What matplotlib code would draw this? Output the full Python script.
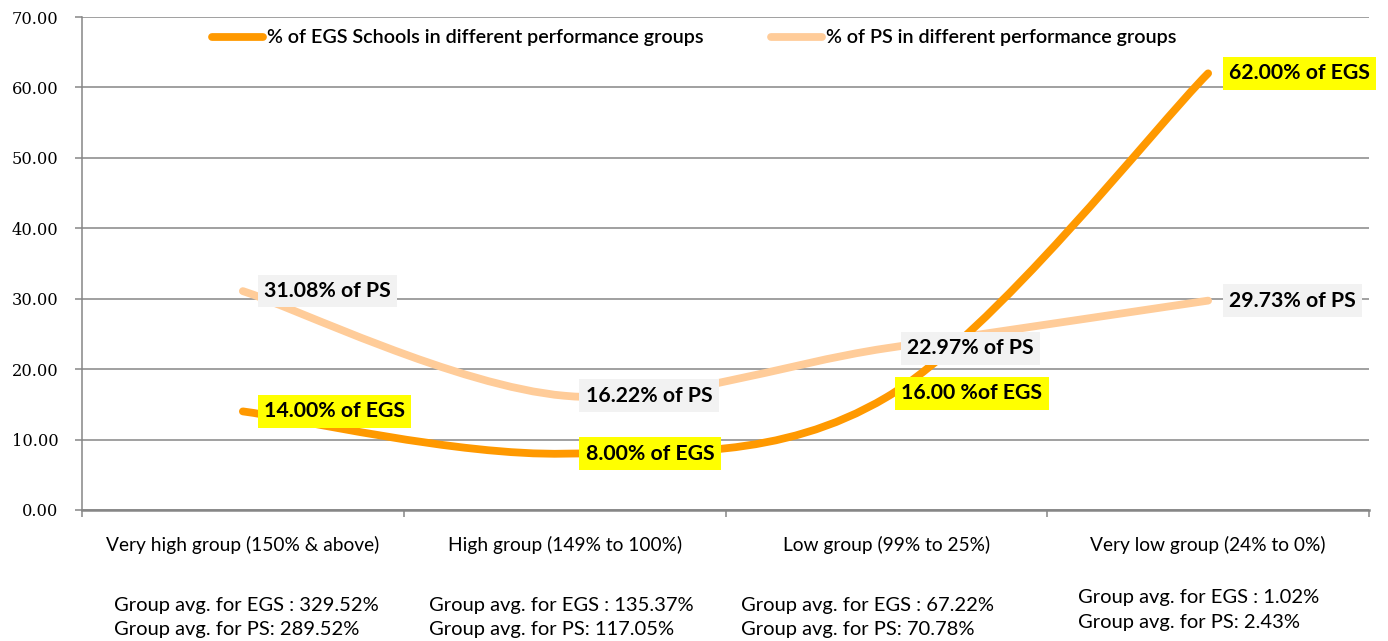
#!/usr/bin/env python

"""EGS vs PS share of schools by performance group"""

import matplotlib
matplotlib.use('Agg')
import matplotlib.pyplot as plt
from matplotlib.path import Path
from matplotlib.patches import PathPatch
from matplotlib.lines import Line2D
from matplotlib.ticker import FormatStrFormatter, MultipleLocator

# data
groups = ['Very high group (150% & above)', 'High group (149% to 100%)',
          'Low group (99% to 25%)', 'Very low group (24% to 0%)']
egs = [14.00, 8.00, 16.00, 62.00]
ps = [31.08, 16.22, 22.97, 29.73]
egs_labels = ['14.00% of EGS', '8.00% of EGS', '16.00 %of EGS', '62.00% of EGS']
ps_labels = ['31.08% of PS', '16.22% of PS', '22.97% of PS', '29.73% of PS']
avg_egs = ['329.52%', '135.37%', '67.22%', '1.02%']
avg_ps = ['289.52%', '117.05%', '70.78%', '2.43%']

EGS_COL = '#FF9900'
PS_COL = '#FFCC99'
GRID = '#868686'
SANS = ['Lato', 'DejaVu Sans']


def smooth_path(xs, ys):
    """Excel style smoothed line as cubic bezier segments"""
    pts = list(zip(xs, ys))
    verts = [pts[0]]
    codes = [Path.MOVETO]
    n = len(pts)
    for i in range(n - 1):
        p0 = pts[i - 1] if i > 0 else pts[i]
        p1 = pts[i]
        p2 = pts[i + 1]
        p3 = pts[i + 2] if i + 2 < n else pts[i + 1]
        c1 = (p1[0] + (p2[0] - p0[0]) / 6, p1[1] + (p2[1] - p0[1]) / 6)
        c2 = (p2[0] - (p3[0] - p1[0]) / 6, p2[1] - (p3[1] - p1[1]) / 6)
        verts += [c1, c2, p2]
        codes += [Path.CURVE4] * 3
    return Path(verts, codes)


fig = plt.figure(figsize=(13.88, 6.41), dpi=100)
ax = fig.add_axes([82 / 1388, 1 - 510 / 641, (1369 - 82) / 1388, (510 - 17) / 641])

x = list(range(len(groups)))
for vals, col in [(ps, PS_COL), (egs, EGS_COL)]:
    patch = PathPatch(smooth_path(x, vals), facecolor='none', edgecolor=col,
                      lw=5.6, capstyle='round', joinstyle='round', zorder=3)
    ax.add_patch(patch)

ax.set_xlim(-0.5, 3.5)
ax.set_ylim(0, 70)
ax.yaxis.set_major_locator(MultipleLocator(10))
ax.yaxis.set_major_formatter(FormatStrFormatter('%.2f'))
ax.grid(axis='y', color=GRID, lw=1.1, zorder=0)
for s in ['top', 'right']:
    ax.spines[s].set_visible(False)
for s in ['left', 'bottom']:
    ax.spines[s].set_color(GRID)
    ax.spines[s].set_linewidth(1.1)
ax.spines['bottom'].set_linewidth(1.8)

ax.set_xticks(x)
ax.set_xticklabels(groups, fontsize=13.8, family=SANS)
ax.set_xticks([i - 0.5 for i in range(len(groups) + 1)], minor=True)
ax.tick_params(axis='x', which='major', length=0, pad=18.5)
ax.tick_params(axis='x', which='minor', length=5, color=GRID, width=1.1)
ax.tick_params(axis='y', length=5, color=GRID, width=1.1, pad=12)
for lab in ax.get_yticklabels():
    lab.set_family('DejaVu Serif')
    lab.set_fontsize(11.7)

# group averages under the category names
avg_x = [0.01, 0.99, 1.94, 2.97]
avg_y = [-0.218, -0.218, -0.218, -0.203]
for i in range(len(groups)):
    ax.text(avg_x[i], avg_y[i],
            'Group avg. for EGS : %s\nGroup avg. for PS: %s' % (avg_egs[i], avg_ps[i]),
            transform=ax.get_xaxis_transform(), ha='center', va='center',
            multialignment='left', fontsize=14.5, family=SANS, linespacing=1.55)

# data labels
egs_off = [(21, 0), (21, 0), (15, 4), (21, 0)]
for i in x:
    ax.annotate(ps_labels[i], (i, ps[i]), xytext=(21, 0), textcoords='offset pixels',
                ha='left', va='center', fontsize=15.3, fontweight='bold', family=SANS,
                bbox=dict(boxstyle='square,pad=0.3', fc='#F2F2F2', ec='none'), zorder=5)
    ax.annotate(egs_labels[i], (i, egs[i]), xytext=egs_off[i], textcoords='offset pixels',
                ha='left', va='center', fontsize=15.3, fontweight='bold', family=SANS,
                bbox=dict(boxstyle='square,pad=0.3', fc='#FFFF00', ec='none'), zorder=5)

handles = [Line2D([], [], color=EGS_COL, lw=5.6, solid_capstyle='round'),
           Line2D([], [], color=PS_COL, lw=5.6, solid_capstyle='round')]
fig.legend(handles, ['% of EGS Schools in different performance groups',
                     '% of PS in different performance groups'],
           loc='center', bbox_to_anchor=(0.5, 1 - 38 / 641), ncol=2, frameon=False,
           prop={'family': SANS, 'size': 14.2, 'weight': 'semibold'},
           handlelength=2.6, handletextpad=0.2, columnspacing=3.4)

fig.savefig('out.png', dpi=100)
